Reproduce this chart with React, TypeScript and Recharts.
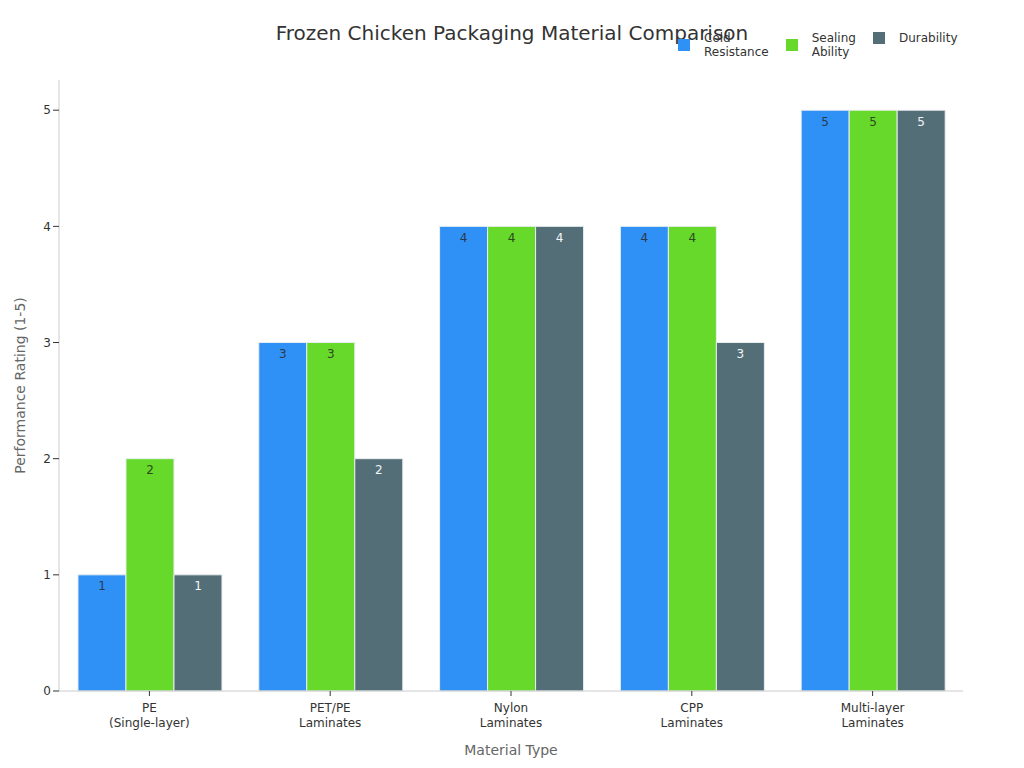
import { BarChart, Bar, XAxis, YAxis, LabelList } from 'recharts';

const materials = ['PE\n(Single-layer)', 'PET/PE\nLaminates', 'Nylon\nLaminates', 'CPP\nLaminates', 'Multi-layer\nLaminates'];
const coldResistance = [1, 3, 4, 4, 5];
const sealingAbility = [2, 3, 4, 4, 5];
const durability = [1, 2, 4, 3, 5];
const yTicks = [0, 1, 2, 3, 4, 5];

const series = [
  { key: 'cold', name: 'Cold\nResistance', color: '#2f91f6', text: '#2b3a4a' },
  { key: 'sealing', name: 'Sealing\nAbility', color: '#66d92a', text: '#2f4a1e' },
  { key: 'durability', name: 'Durability', color: '#546e78', text: '#f2f5f7' },
];

const data = materials.map((m, i) => ({
  material: m,
  cold: coldResistance[i],
  sealing: sealingAbility[i],
  durability: durability[i],
}));

const FONT = '"DejaVu Sans", sans-serif';

function MaterialTick({ x, y, payload }: any) {
  const lines = String(payload.value).split('\n');
  return (
    <text x={x} y={y + 2} textAnchor="middle" fill="#333" fontSize={12} fontFamily={FONT}>
      {lines.map((l, i) => (
        <tspan key={i} x={x} dy={i === 0 ? 12 : 15}>{l}</tspan>
      ))}
    </text>
  );
}

function LegendBox() {
  return (
    <div style={{ position: 'absolute', top: 31, left: 678, display: 'flex', alignItems: 'flex-start', fontFamily: FONT, fontSize: 12, color: '#333' }}>
      {series.map(s => (
        <div key={s.key} style={{ display: 'flex', alignItems: 'center', marginRight: 17 }}>
          <div style={{ width: 12, height: 12, background: s.color, marginRight: 14 }} />
          <div style={{ whiteSpace: 'pre', lineHeight: '14px' }}>{s.name}</div>
        </div>
      ))}
    </div>
  );
}

export default function App() {
  return (
    <div style={{ position: 'absolute', left: 0, top: 0, width: 1024, height: 768, background: '#fff' }}>
      <BarChart
        width={1024}
        height={768}
        data={data}
        margin={{ top: 80, right: 61, bottom: 0, left: 0 }}
        barCategoryGap="10.5%"
        barGap={0}
      >
        <XAxis
          dataKey="material"
          height={77}
          tick={<MaterialTick />}
          tickLine={{ stroke: '#333' }}
          tickSize={5}
          axisLine={{ stroke: '#ccc' }}
          interval={0}
          label={{ value: 'Material Type', position: 'insideBottom', offset: 13, fill: '#666', fontSize: 14, fontFamily: FONT }}
        />
        <YAxis
          width={59}
          domain={[0, 5.26]}
          ticks={yTicks}
          tick={{ fill: '#333', fontSize: 12, fontFamily: FONT }}
          tickLine={{ stroke: '#333' }}
          axisLine={{ stroke: '#ccc' }}
          label={{ value: 'Performance Rating (1-5)', angle: -90, position: 'insideLeft', offset: 20, fill: '#666', fontSize: 14, fontFamily: FONT, style: { textAnchor: 'middle' } }}
        />
        {series.map(s => (
          <Bar key={s.key} dataKey={s.key} name={s.name} fill={s.color} stroke="#e8eef0" strokeWidth={1} isAnimationActive={false}>
            <LabelList dataKey={s.key} position="insideTop" offset={7} fill={s.text} fontSize={12} fontFamily={FONT} />
          </Bar>
        ))}
      </BarChart>
      <div style={{ position: 'absolute', left: 0, top: 21, width: 1024, textAlign: 'center', fontFamily: FONT, fontSize: 20, color: '#333' }}>
        Frozen Chicken Packaging Material Comparison
      </div>
      <LegendBox />
    </div>
  );
}
